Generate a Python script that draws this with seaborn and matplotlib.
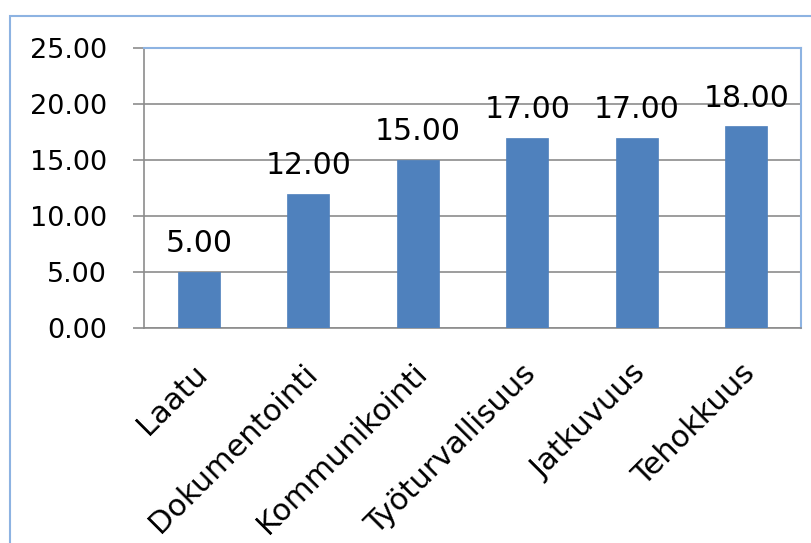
import numpy as np
import pandas as pd
import matplotlib
matplotlib.use('Agg')
import matplotlib.pyplot as plt
import matplotlib.transforms as mtransforms
from matplotlib.patches import Rectangle
import seaborn as sns

# 数据
categories = ['Laatu', 'Dokumentointi', 'Kommunikointi', 'Työturvallisuus', 'Jatkuvuus', 'Tehokkuus']
values = [5.0, 12.0, 15.0, 17.0, 17.0, 18.0]
y_ticks = [0, 5, 10, 15, 20, 25]

sns.set_style('white')
plt.rcParams['font.family'] = ['DejaVu Sans']
plt.rcParams['text.color'] = 'black'
plt.rcParams['xtick.color'] = 'black'
plt.rcParams['ytick.color'] = 'black'

BAR_COLOR = '#4F81BD'
FRAME_COLOR = '#8DB3E2'
GRID_COLOR = '#8C8C8C'

df = pd.DataFrame({'kategoria': categories, 'arvo': values})

fig = plt.figure(figsize=(8.11, 5.43), dpi=100)
ax = fig.add_axes([144 / 811, 1 - 328 / 543, (801 - 144) / 811, (328 - 48) / 543])

# 外框
fig.patches.append(Rectangle((10 / 811, -0.1), 1.2, 1 - 16 / 543 + 0.1,
                             transform=fig.transFigure, fill=False,
                             edgecolor=FRAME_COLOR, linewidth=1.5, zorder=0))

sns.barplot(data=df, x='kategoria', y='arvo', color=BAR_COLOR, width=0.385,
            saturation=1, edgecolor=BAR_COLOR, linewidth=0.5, ax=ax, zorder=3)

ax.set_xlim(-0.5, len(categories) - 0.5)
ax.set_ylim(0, 25)
ax.set_yticks(y_ticks)
ax.set_yticklabels([f'{v:.2f}' for v in y_ticks], fontsize=19.5, color='black')
ax.yaxis.grid(True, color=GRID_COLOR, linewidth=1.2, zorder=0)
ax.set_axisbelow(True)

# x 轴刻度在类别之间
ax.set_xticks(np.arange(len(categories) + 1) - 0.5, minor=True)
ax.tick_params(axis='x', which='minor', length=9, width=1.2, color=GRID_COLOR, direction='out')
ax.tick_params(axis='x', which='major', length=0, pad=22)
ax.tick_params(axis='y', length=8, width=1.2, color=GRID_COLOR, direction='out', left=True, pad=18.5)
ax.set_xticks(range(len(categories)))
ax.set_xticklabels(categories, rotation=45, ha='right', rotation_mode='anchor',
                   fontsize=22, color='black')
shift = mtransforms.ScaledTranslation(-6 / 100, 0, fig.dpi_scale_trans)
for lbl in ax.get_xticklabels():
    lbl.set_transform(lbl.get_transform() + shift)

ax.set_xlabel('')
ax.set_ylabel('')

for side in ['left', 'bottom']:
    ax.spines[side].set_color(GRID_COLOR)
    ax.spines[side].set_linewidth(1.2)
for side in ['top', 'right']:
    ax.spines[side].set_color(FRAME_COLOR)
    ax.spines[side].set_linewidth(1.5)

# 数值标签
for cont in ax.containers:
    ax.bar_label(cont, fmt='%.2f', padding=10, fontsize=21.5, color='black')

fig.savefig('out.png', dpi=100)
